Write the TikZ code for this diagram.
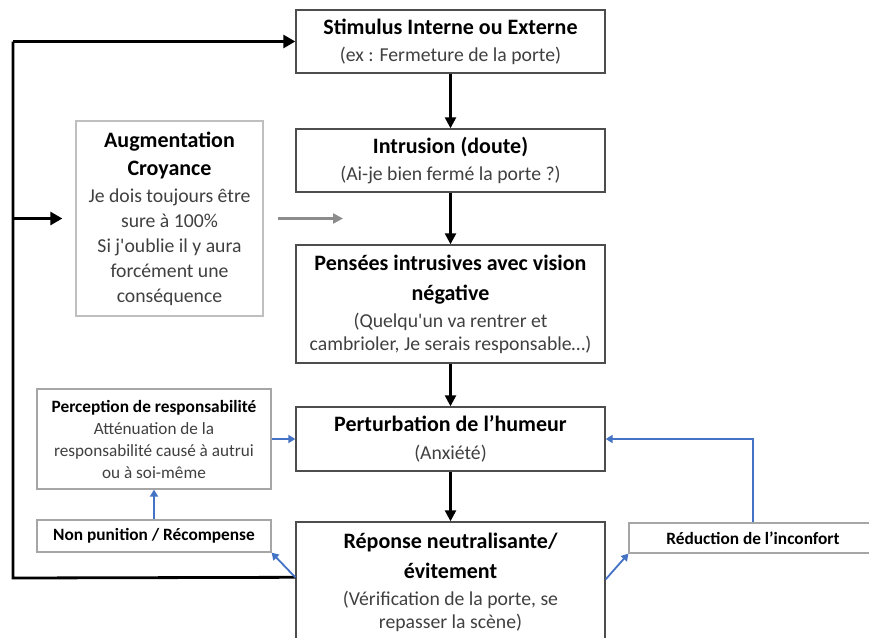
\documentclass[tikz,border=0pt]{standalone}
\usepackage{fontspec}
\setmainfont{Carlito}
\usetikzlibrary{arrows.meta,calc}
\definecolor{myblue}{HTML}{4472C4}
\definecolor{subgray}{HTML}{404040}
\definecolor{boxgray}{HTML}{4D4D4D}
\definecolor{lightbox}{HTML}{BFBFBF}
\definecolor{midbox}{HTML}{A6A6A6}
\newcommand{\ttl}[1]{{\fontsize{22}{23}\selectfont\bfseries\color{black}#1}}
\newcommand{\ttlsmall}[1]{{\fontsize{17.3}{22}\selectfont\bfseries\color{black}#1}}
\begin{document}
\begin{tikzpicture}[x=1pt,y=-1pt,
  mainbox/.style={draw=boxgray, line width=1.4pt, minimum width=309pt, align=center, inner sep=0pt,
    font=\fontsize{19.7}{23}\selectfont, text=subgray},
  augbox/.style={draw=lightbox, line width=1.3pt, minimum width=187pt, minimum height=195pt, align=center, inner sep=0pt,
    font=\fontsize{19.7}{25}\selectfont, text=subgray},
  smallbox/.style={draw=midbox, line width=1.2pt, align=center, inner sep=0pt,
    font=\fontsize{17.2}{22}\selectfont, text=subgray},
  blk/.style={line width=2.8pt, -{Triangle[length=12pt,width=13pt]}},
  blkv/.style={line width=2.4pt, -{Triangle[length=11pt,width=11pt]}},
  gry/.style={line width=2.4pt, color=gray!90, -{Triangle[length=10pt,width=10pt]}},
  blu/.style={line width=1.8pt, color=myblue, -{Triangle[length=7pt,width=8pt]}}
]
\useasboundingbox (0,0) rectangle (869,637);
\clip (0,0) rectangle (869,637);
\fill[white] (0,0) rectangle (869,637);

% main column
\node[mainbox, minimum height=63pt] (stim) at (450.5,41.5)
  {\ttl{Stimulus Interne ou Externe}\\[4pt](ex : Fermeture de la porte)};
\node[mainbox, minimum height=63pt] (intr) at (450.5,160.5)
  {\ttl{Intrusion (doute)}\\[4pt](Ai-je bien fermé la porte ?)};
\node[mainbox, minimum height=118pt] (pens) at (450.5,304)
  {\ttl{Pensées intrusives avec vision}\\[7pt]\ttl{négative}\\[4pt](Quelqu\textquotesingle un va rentrer et\\cambrioler, Je serais responsable…)};
\node[mainbox, minimum height=64pt] (pert) at (450.5,439)
  {\ttl{Perturbation de l’humeur}\\[5pt](Anxiété)};
\node[mainbox, minimum height=120pt] (rep) at (450.5,582)
  {\ttl{Réponse neutralisante/}\\[7pt]\ttl{évitement}\\[4pt](Vérification de la porte, se\\repasser la scène)};

% left side
\node[augbox] (aug) at (169.5,218.5)
  {{\fontsize{22}{25}\selectfont\bfseries\color{black}Augmentation}\\[3pt]{\fontsize{22}{25}\selectfont\bfseries\color{black}Croyance}\\[2pt]Je dois toujours être\\sure à 100\%\\Si j\textquotesingle oublie il y aura\\forcément une\\conséquence};
\node[smallbox, minimum width=234pt, minimum height=100pt] (perc) at (154,439)
  {\ttlsmall{Perception de responsabilité}\\Atténuation de la\\responsabilité causé à autrui\\ou à soi-même};
\node[smallbox, minimum width=234pt, minimum height=32pt] (nonp) at (154,536)
  {\ttlsmall{Non punition / Récompense}};
\node[smallbox, minimum width=248pt, minimum height=30pt] (red) at (753,538)
  {\ttlsmall{Réduction de l’inconfort}};

% black loop
\coordinate (lb) at (13,578);
\coordinate (lt) at (lb |- stim.west);
\coordinate (lm) at (lb |- aug.west);
\draw[line width=2.8pt] ($(rep.north west)+(0,56)$) -- (lb) -- (lt);
\draw[blk] (lt) -- (stim.west);
\draw[blk] (lm) -- ([xshift=-13pt]aug.west);

% gray arrow
\coordinate (gt) at (343,218.5);
\draw[gry] ([xshift=14pt]aug.east) -- (gt);

% vertical black arrows
\draw[blkv] (stim.south) -- (intr.north);
\draw[blkv] (intr.south) -- (pens.north);
\draw[blkv] (pens.south) -- (pert.north);
\draw[blkv] (pert.south) -- (rep.north);

% blue arrows
\draw[blu] (perc.east) -- (pert.west);
\draw[blu] (nonp.north) -- (perc.south);
\draw[blu] ($(rep.north west)+(0,56)$) -- (nonp.south east);
\draw[blu] ($(rep.north east)+(0,58)$) -- (red.south west);
\draw[blu] (red.north) |- (pert.east);
\end{tikzpicture}
\end{document}
